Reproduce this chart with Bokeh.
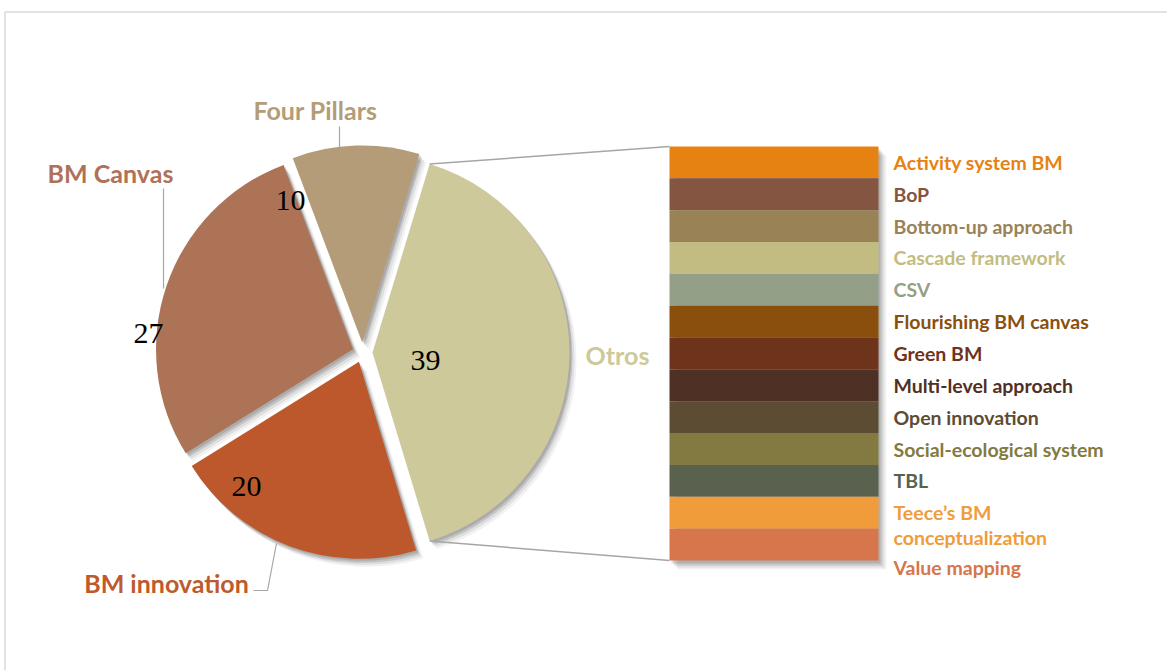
import numpy as np
from bokeh.plotting import figure
from bokeh.models import Range1d, ColumnDataSource
from bokeh.core.properties import value
from bokeh.embed import file_html
from bokeh.resources import INLINE

# ---- data -------------------------------------------------------------
pie_labels = ["Four Pillars", "BM Canvas", "BM innovation", "Otros"]
pie_values = [10, 27, 20, 39]
pie_colors = ["#B39C77", "#AD7357", "#BD582C", "#CDC99A"]
pie_text_colors = ["#B39C77", "#B07158", "#BE5A2E", "#CDC99A"]

bar_labels = ["Activity system BM", "BoP", "Bottom-up approach",
              "Cascade framework", "CSV", "Flourishing BM canvas", "Green BM",
              "Multi-level approach", "Open innovation",
              "Social-ecological system", "TBL",
              "Teece\u2019s BM\nconceptualization", "Value mapping"]
bar_values = [3, 3, 3, 3, 3, 3, 3, 3, 3, 3, 3, 3, 3]
bar_colors = ["#E68212", "#845541", "#9A8257", "#C3BC82", "#939F87",
              "#8A4F0D", "#6E331B", "#4F3024", "#5C4C33", "#827A40",
              "#5A614F", "#F09C3A", "#D7754C"]

# ---- layout (pixels, y measured from the top of the page) -------------
W, H = 1167, 670
CX, CY, R, EXPLODE = 362, 352, 197, 10
BAR_L, BAR_R, BAR_TOP, BAR_BOT = 669, 878, 146, 560
LABEL_X = 893

def Y(y):
    return H - y

label_pos = [(315, 109), (110, 172), (166, 582), (617, 354)]
value_pos = [(290, 200), (148, 333), (246, 486), (425, 360)]
leaders = [
    ([339, 339], [126, 147]),
    ([163, 163], [188, 288]),
    ([276, 267, 253], [543, 590, 590]),
]

p = figure(width=W, height=H, x_range=Range1d(0, W), y_range=Range1d(0, H),
           output_backend="svg", toolbar_location=None,
           x_axis_location=None, y_axis_location=None, min_border=0,
           outline_line_color=None, background_fill_color="white",
           border_fill_color="white")
p.grid.visible = False

# chart frame
p.line([4.5, 4.5, W], [0, Y(11.5), Y(11.5)], line_color="#D9D9D9", line_width=1.5)

# ---- pie --------------------------------------------------------------
total = sum(pie_values)
spans = [2 * np.pi * v / total for v in pie_values]
starts, ends = [], []
a = spans[3] / 2
for s in spans[:3]:
    starts.append(a)
    ends.append(a + s)
    a += s
starts.append(-spans[3] / 2)
ends.append(spans[3] / 2)
mids = [(s + e) / 2 for s, e in zip(starts, ends)]
vx = [CX + EXPLODE * np.cos(m) for m in mids]
vy = [Y(CY) + EXPLODE * np.sin(m) for m in mids]

pie_src = ColumnDataSource(dict(x=vx, y=vy, start=starts, end=ends,
                                color=pie_colors))

# soft drop shadow under the slices
for dx, dy, al in [(7, 8, 0.05), (5, 6, 0.08), (3, 4, 0.12), (2, 2, 0.12)]:
    p.wedge(x=[v + dx for v in vx], y=[v - dy for v in vy], radius=R,
            start_angle=starts, end_angle=ends, fill_color="#000000",
            fill_alpha=al, line_color=None)

p.wedge(x="x", y="y", radius=R, start_angle="start", end_angle="end",
        fill_color="color", line_color=None, source=pie_src)

# ---- stacked bar of "Otros" -------------------------------------------
bar_total = sum(bar_values)
unit = (BAR_BOT - BAR_TOP) / bar_total
lo = -Y(BAR_BOT) / unit
p.extra_y_ranges = {"bar": Range1d(lo, lo + H / unit)}

tops, bots = [], []
acc = bar_total
for v in bar_values:
    tops.append(acc)
    bots.append(acc - v)
    acc -= v

for dx, dy, al in [(8, 9, 0.05), (6, 7, 0.07), (4, 5, 0.1), (2, 3, 0.12)]:
    p.quad(left=BAR_L + dx, right=BAR_R + dx, top=bar_total - dy / unit,
           bottom=-dy / unit, fill_color="#000000", fill_alpha=al,
           line_color=None, y_range_name="bar")

bar_src = ColumnDataSource(dict(top=tops, bottom=bots, color=bar_colors))
p.quad(left=BAR_L, right=BAR_R, top="top", bottom="bottom",
       fill_color="color", line_color=None, source=bar_src,
       y_range_name="bar")

# connector lines from the "Otros" slice to the bar
ox, oy = vx[3], vy[3]
top_pt = (ox + R * np.cos(ends[3]), oy + R * np.sin(ends[3]))
bot_pt = (ox + R * np.cos(starts[3]), oy + R * np.sin(starts[3]))
bar_top_y = Y(BAR_BOT) + bar_total * unit
bar_bot_y = Y(BAR_BOT)
p.line([top_pt[0], BAR_L], [top_pt[1], bar_top_y], line_color="#A6A6A6", line_width=1.5)
p.line([bot_pt[0], BAR_L], [bot_pt[1], bar_bot_y], line_color="#A6A6A6", line_width=1.5)

# bar category labels, pushed down when a wrapped label needs more room
LINE_H, GAP = 25, 30
lx, ly, lt, lc = [], [], [], []
prev_last = None
for lab, t, b, c in zip(bar_labels, tops, bots, bar_colors):
    center = Y(BAR_BOT) + (t + b) / 2 * unit
    first = center
    if prev_last is not None and prev_last - first < GAP:
        first = prev_last - GAP
    lines = lab.split("\n")
    for k, line in enumerate(lines):
        lx.append(LABEL_X)
        ly.append(first - k * LINE_H)
        lt.append(line)
        lc.append(c)
    prev_last = first - (len(lines) - 1) * LINE_H

p.text(x=lx, y=ly, text=lt, text_color=lc, text_font=value("Lato"),
       text_font_style="bold", text_font_size="19.5px",
       text_baseline="middle", text_align="left")

# ---- pie labels, leaders and values -----------------------------------
for xs, ys in leaders:
    p.line(xs, [Y(v) for v in ys], line_color="#A6A6A6", line_width=1.2)

p.text(x=[q[0] for q in label_pos], y=[Y(q[1]) for q in label_pos],
       text=pie_labels, text_color=pie_text_colors, text_font=value("Lato"),
       text_font_style="bold", text_font_size="25px",
       text_baseline="middle", text_align="center")

p.text(x=[q[0] for q in value_pos], y=[Y(q[1]) for q in value_pos],
       text=[str(v) for v in pie_values], text_color="#000000",
       text_font=value("Liberation Serif"), text_font_size="30px",
       text_baseline="middle", text_align="center")

open("out.html", "w").write(file_html(p, INLINE))
